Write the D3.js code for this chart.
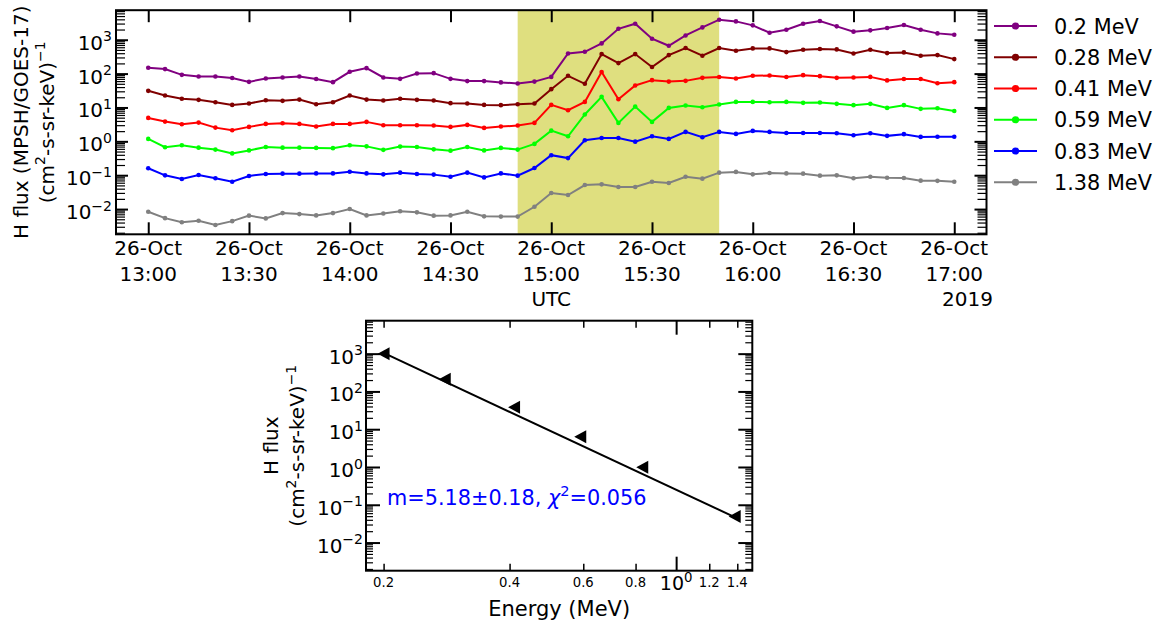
<!DOCTYPE html>
<html>
<head>
<meta charset="utf-8">
<script src="https://cdn.jsdelivr.net/npm/d3@7"></script>
<style>
  body { margin: 0; background: #fff; }
  svg { display: block; font-family: "DejaVu Sans", sans-serif; }
</style>
</head>
<body>
<svg id="chart" width="1166" height="625"></svg>
<script>
// ---- time series: proton flux per energy channel, 5-minute samples 13:00–17:00 UTC ----
const channelLabels = ["0.2 MeV", "0.28 MeV", "0.41 MeV", "0.59 MeV", "0.83 MeV", "1.38 MeV"];
const channelColors = ["#800080", "#800000", "#ff0000", "#00ff00", "#0000ff", "#808080"];

const flux020 = [149, 136, 92, 82, 82, 74, 57, 72, 77, 82, 69, 56, 113, 145, 77, 70, 101, 103, 70, 60,
  60, 55, 51, 58, 80, 394, 441, 778, 2100, 2970, 1070, 664, 1340, 2310, 3900, 3480, 2660, 1610, 1980, 2970,
  3570, 2480, 1730, 1890, 2210, 2720, 1980, 1540, 1410];
const flux028 = [31, 22.5, 18, 16.8, 14.3, 11.9, 13.1, 16.4, 15.7, 17.1, 12.5, 14.3, 22.5, 17.1, 16, 18, 16.8, 16, 13.4, 13.1,
  11.9, 11.7, 12.5, 13.1, 34.7, 86, 50, 377, 204, 377, 156, 352, 568, 337, 568, 473, 555, 555, 432, 506,
  530, 518, 394, 506, 403, 422, 337, 352, 268];
const flux041 = [4.92, 3.83, 3.19, 3.58, 2.54, 2.13, 2.67, 3.27, 3.43, 3.27, 2.73, 3.27, 3.27, 3.75, 2.99, 2.99, 2.99, 2.92, 2.67, 3.06,
  2.49, 2.73, 2.92, 3.5, 11.9, 8.3, 14.6, 111, 17.5, 44.5, 64, 58, 61, 75, 79, 72, 86, 88, 79, 90,
  84, 75, 77, 80, 63, 69, 69, 52, 56];
const flux059 = [1.18, 0.67, 0.77, 0.65, 0.57, 0.44, 0.54, 0.68, 0.65, 0.65, 0.64, 0.63, 0.77, 0.71, 0.56, 0.70, 0.68, 0.58, 0.53, 0.68,
  0.54, 0.64, 0.57, 0.84, 2.07, 1.41, 6.2, 20.6, 3.5, 10.6, 3.75, 9.7, 11.4, 10.2, 12.2, 14.6, 14.6, 14.3, 14.6, 13.7,
  14.0, 12.8, 11.7, 12.8, 9.7, 11.7, 9.1, 9.5, 7.9];
const flux083 = [0.160, 0.099, 0.077, 0.101, 0.081, 0.064, 0.095, 0.109, 0.111, 0.111, 0.113, 0.113, 0.127, 0.113, 0.106, 0.119, 0.109, 0.104, 0.090, 0.119,
  0.086, 0.113, 0.097, 0.163, 0.39, 0.32, 1.08, 1.26, 1.26, 0.98, 1.41, 1.18, 1.90, 1.32, 1.90, 1.66, 2.03, 1.90, 1.77, 1.77,
  1.77, 1.74, 1.51, 1.74, 1.45, 1.63, 1.35, 1.37, 1.37];
const flux138 = [0.0083, 0.0054, 0.0041, 0.0045, 0.0034, 0.0044, 0.0064, 0.0053, 0.0076, 0.0071, 0.0065, 0.0076, 0.010, 0.0065, 0.0074, 0.0086, 0.0080, 0.0064, 0.0065, 0.0083,
  0.0061, 0.0060, 0.0060, 0.0117, 0.0297, 0.0259, 0.0513, 0.0537, 0.0448, 0.0448, 0.064, 0.0587, 0.090, 0.079, 0.119, 0.125, 0.106, 0.116, 0.113, 0.111,
  0.097, 0.099, 0.081, 0.090, 0.084, 0.083, 0.069, 0.068, 0.064];
const channelFlux = [flux020, flux028, flux041, flux059, flux083, flux138];

const sampleStart = new Date(Date.UTC(2019, 9, 26, 13, 0));
const sampleStepMinutes = 5;
const timeTickLabels = ["13:00", "13:30", "14:00", "14:30", "15:00", "15:30", "16:00", "16:30", "17:00"];
const dateTickLabel = "26-Oct";
const eventWindow = ["14:50", "15:50"];

// ---- spectrum over the event window ----
const spectrumEnergy = [0.2, 0.28, 0.41, 0.59, 0.83, 1.38];
const spectrumFlux = [1000, 209, 38, 6.3, 0.98, 0.049];
const fitIndex = 5.18, fitIndexErr = 0.18, fitChi2 = 0.056, fitAmplitude = 0.25;

const fluxTickExponents = [-2, -1, 0, 1, 2, 3];
const energyTicks = [0.2, 0.4, 0.6, 0.8, 1.2, 1.4];

// ---------------------------------------------------------------------------
const svg = d3.select("#chart");
const atTime = hhmm => {
  const [h, m] = hhmm.split(":").map(Number);
  return new Date(Date.UTC(2019, 9, 26, h, m));
};
const sampleTimes = flux020.map((_, i) => d3.utcMinute.offset(sampleStart, i * sampleStepMinutes));

const minorLogTicks = (lo, hi) => {
  const out = [];
  for (let e = lo; e <= hi; e++) for (let k = 2; k <= 9; k++) out.push(k * Math.pow(10, e));
  return out;
};
const fluxMajor = fluxTickExponents.map(e => Math.pow(10, e));
const fluxMinor = minorLogTicks(-3, 3);
const FS = 20;

function styleTicks(g, width) {
  g.select(".domain").remove();
  g.selectAll(".tick line").attr("stroke", "#000").attr("stroke-width", width);
  g.selectAll(".tick text").remove();
}

function pow10Text(sel, exp, fs) {
  sel.append("tspan").text("10");
  sel.append("tspan").attr("dy", -0.42 * fs).attr("font-size", fs * 0.7)
    .text(exp < 0 ? "\u2212" + (-exp) : String(exp));
}

// ======================= upper panel: time series =======================
const T = { left: 116, right: 986.5, top: 10.2, bottom: 234.3 };
const x = d3.scaleUtc()
  .domain([d3.utcSecond.offset(atTime("13:00"), -576), d3.utcSecond.offset(atTime("17:00"), 576)])
  .range([T.left, T.right]);
const y = d3.scaleLog().domain([Math.pow(10, -2.745), Math.pow(10, 3.872)]).range([T.bottom, T.top]);

const upper = svg.append("g");

upper.append("rect")
  .attr("x", x(atTime(eventWindow[0]))).attr("y", T.top)
  .attr("width", x(atTime(eventWindow[1])) - x(atTime(eventWindow[0])))
  .attr("height", T.bottom - T.top)
  .attr("fill", "#bfbf00").attr("fill-opacity", 0.5);

const line = d3.line().x((d, i) => x(sampleTimes[i])).y(d => y(d));
channelFlux.forEach((vals, s) => {
  const g = upper.append("g");
  g.append("path").datum(vals).attr("d", line)
    .attr("fill", "none").attr("stroke", channelColors[s]).attr("stroke-width", 2);
  g.selectAll("circle").data(vals).join("circle")
    .attr("cx", (d, i) => x(sampleTimes[i])).attr("cy", d => y(d)).attr("r", 2.3)
    .attr("fill", channelColors[s]);
});

const timeTicks = timeTickLabels.map(atTime);
upper.append("g").attr("transform", `translate(0,${T.bottom})`)
  .call(d3.axisBottom(x).tickValues(timeTicks).tickSizeInner(-12).tickSizeOuter(0))
  .call(g => styleTicks(g, 2));
upper.append("g").attr("transform", `translate(0,${T.top})`)
  .call(d3.axisTop(x).tickValues(timeTicks).tickSizeInner(-12).tickSizeOuter(0))
  .call(g => styleTicks(g, 2));
[[d3.axisLeft, T.left], [d3.axisRight, T.right]].forEach(([axis, pos]) => {
  upper.append("g").attr("transform", `translate(${pos},0)`)
    .call(axis(y).tickValues(fluxMinor.filter(v => v > y.domain()[0] && v < y.domain()[1])).tickSizeInner(-9).tickSizeOuter(0))
    .call(g => styleTicks(g, 1.2));
  upper.append("g").attr("transform", `translate(${pos},0)`)
    .call(axis(y).tickValues(fluxMajor).tickSizeInner(-12).tickSizeOuter(0))
    .call(g => styleTicks(g, 2));
});

const xl = upper.append("g").attr("font-size", FS).attr("text-anchor", "middle").attr("fill", "#000");
timeTicks.forEach((t, i) => {
  xl.append("text").attr("x", x(t)).attr("y", 255).text(dateTickLabel);
  xl.append("text").attr("x", x(t)).attr("y", 280.5).text(timeTickLabels[i]);
});
xl.append("text").attr("x", (T.left + T.right) / 2).attr("y", 306).text("UTC");
xl.append("text").attr("x", 993).attr("y", 306).attr("text-anchor", "end").text("2019");

const yl = upper.append("g").attr("font-size", FS).attr("text-anchor", "end");
fluxTickExponents.forEach(e => {
  const t = yl.append("text").attr("x", T.left - 4).attr("y", y(Math.pow(10, e)) + 0.5 * FS);
  pow10Text(t, e, FS);
});

function fluxUnitsLine(g, xPos, yPos) {
  const t = g.append("text").attr("transform", `translate(${xPos},${yPos}) rotate(-90)`)
    .attr("text-anchor", "middle").attr("font-size", FS);
  t.append("tspan").text("(cm");
  t.append("tspan").attr("dy", -0.42 * FS).attr("font-size", FS * 0.7).text("2");
  t.append("tspan").attr("dy", 0.42 * FS).text("-s-sr-keV)");
  t.append("tspan").attr("dy", -0.42 * FS).attr("font-size", FS * 0.7).text("\u22121");
}
const midT = (T.top + T.bottom) / 2;
upper.append("text").attr("transform", `translate(27.5,${midT}) rotate(-90)`)
  .attr("text-anchor", "middle").attr("font-size", FS).text("H flux (MPSH/GOES-17)");
fluxUnitsLine(upper, 53.5, midT);

upper.append("rect").attr("x", T.left).attr("y", T.top)
  .attr("width", T.right - T.left).attr("height", T.bottom - T.top)
  .attr("fill", "none").attr("stroke", "#000").attr("stroke-width", 2);

// legend
const legend = upper.append("g");
channelLabels.forEach((lab, i) => {
  const cy = 26 + i * 31.25;
  legend.append("line").attr("x1", 994).attr("x2", 1037).attr("y1", cy).attr("y2", cy)
    .attr("stroke", channelColors[i]).attr("stroke-width", 2);
  legend.append("circle").attr("cx", 1015.5).attr("cy", cy).attr("r", 3.6).attr("fill", channelColors[i]);
  legend.append("text").attr("x", 1054).attr("y", cy + 7.5).attr("font-size", 20.8).text(lab);
});

// ======================= lower panel: spectrum =======================
const S = { left: 366, right: 752.3, top: 320.7, bottom: 570.7 };
const ex = d3.scaleLog().domain([Math.pow(10, -0.741), Math.pow(10, 0.182)]).range([S.left, S.right]);
const fy = d3.scaleLog().domain(y.domain()).range([S.bottom, S.top]);
const lower = svg.append("g");

[[d3.axisBottom, S.bottom], [d3.axisTop, S.top]].forEach(([axis, pos]) => {
  lower.append("g").attr("transform", `translate(0,${pos})`)
    .call(axis(ex).tickValues(energyTicks).tickSizeInner(-7).tickSizeOuter(0))
    .call(g => styleTicks(g, 1.5));
  lower.append("g").attr("transform", `translate(0,${pos})`)
    .call(axis(ex).tickValues([1]).tickSizeInner(-14).tickSizeOuter(0))
    .call(g => styleTicks(g, 2));
});
[[d3.axisLeft, S.left], [d3.axisRight, S.right]].forEach(([axis, pos]) => {
  lower.append("g").attr("transform", `translate(${pos},0)`)
    .call(axis(fy).tickValues(fluxMinor.filter(v => v > fy.domain()[0] && v < fy.domain()[1])).tickSizeInner(-7).tickSizeOuter(0))
    .call(g => styleTicks(g, 1.2));
  lower.append("g").attr("transform", `translate(${pos},0)`)
    .call(axis(fy).tickValues(fluxMajor).tickSizeInner(-14).tickSizeOuter(0))
    .call(g => styleTicks(g, 2));
});

// power-law fit  F = A * E^-m
const fitLine = d3.line().x(e => ex(e)).y(e => fy(fitAmplitude * Math.pow(e, -fitIndex)));
lower.append("path").datum([spectrumEnergy[0], spectrumEnergy[spectrumEnergy.length - 1]])
  .attr("d", fitLine).attr("fill", "none").attr("stroke", "#000").attr("stroke-width", 2);

lower.selectAll("path.marker").data(spectrumEnergy).join("path").attr("class", "marker")
  .attr("d", (e, i) => {
    const cx = ex(e), cy = fy(spectrumFlux[i]);
    return `M${cx - 6},${cy}L${cx + 6},${cy - 6.5}L${cx + 6},${cy + 6.5}Z`;
  })
  .attr("fill", "#000");

const bxl = lower.append("g").attr("text-anchor", "middle");
energyTicks.forEach(e => {
  bxl.append("text").attr("x", ex(e)).attr("y", 587).attr("font-size", 13.2).text(String(e));
});
const oneLabel = bxl.append("text").attr("x", ex(1)).attr("y", 590).attr("font-size", 19);
pow10Text(oneLabel, 0, 19);
lower.append("text").attr("x", (S.left + S.right) / 2).attr("y", 616).attr("text-anchor", "middle")
  .attr("font-size", 21).text("Energy (MeV)");

const byl = lower.append("g").attr("font-size", FS).attr("text-anchor", "end");
fluxTickExponents.forEach(e => {
  const t = byl.append("text").attr("x", S.left - 3).attr("y", fy(Math.pow(10, e)) + 0.5 * FS);
  pow10Text(t, e, FS);
});
const midS = (S.top + S.bottom) / 2;
lower.append("text").attr("transform", `translate(278,${midS}) rotate(-90)`)
  .attr("text-anchor", "middle").attr("font-size", FS).text("H flux");
fluxUnitsLine(lower, 304, midS);

const fitText = lower.append("text").attr("x", 387).attr("y", 505).attr("font-size", 20.8).attr("fill", "#0000ff");
fitText.append("tspan").text(`m=${fitIndex.toFixed(2)}\u00b1${fitIndexErr.toFixed(2)}, `);
fitText.append("tspan").attr("font-style", "italic").text("\u03c7");
fitText.append("tspan").attr("dy", -0.42 * 20.8).attr("font-size", 20.8 * 0.7).text("2");
fitText.append("tspan").attr("dy", 0.42 * 20.8).text(`=${fitChi2}`);

lower.append("rect").attr("x", S.left).attr("y", S.top)
  .attr("width", S.right - S.left).attr("height", S.bottom - S.top)
  .attr("fill", "none").attr("stroke", "#000").attr("stroke-width", 2);
</script>
</body>
</html>
